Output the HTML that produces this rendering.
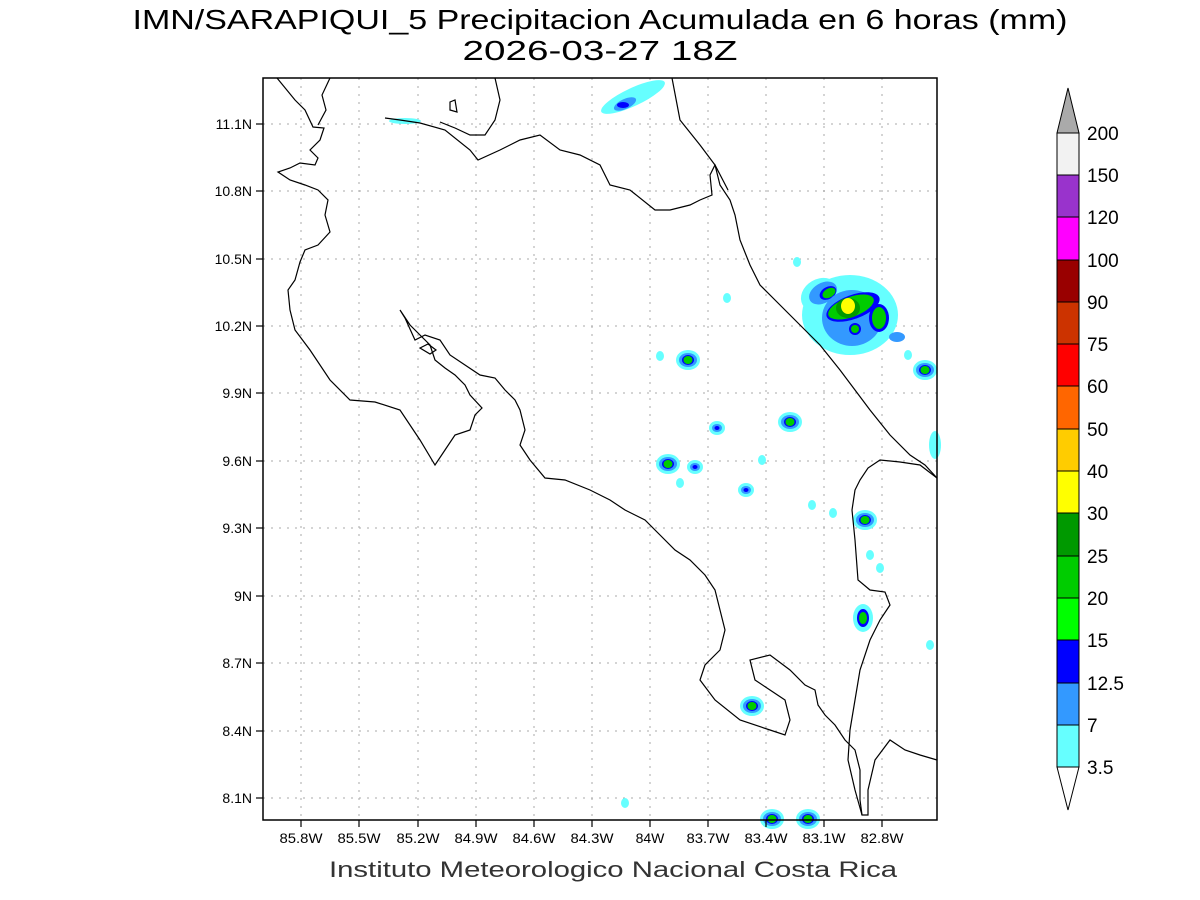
<!DOCTYPE html>
<html><head><meta charset="utf-8"><style>
body{margin:0;background:#fff;}
svg{display:block;font-family:"Liberation Sans",sans-serif;}
</style></head><body>
<svg width="1200" height="900" xmlns="http://www.w3.org/2000/svg">
<rect width="1200" height="900" fill="#fff"/>
<text x="600" y="29" font-size="28" text-anchor="middle" fill="#000" textLength="935" lengthAdjust="spacingAndGlyphs">IMN/SARAPIQUI_5 Precipitacion Acumulada en 6 horas (mm)</text>
<text x="600" y="60" font-size="28" text-anchor="middle" fill="#000" textLength="275" lengthAdjust="spacingAndGlyphs">2026-03-27 18Z</text>
<g stroke="#aaa" stroke-width="1" stroke-dasharray="2,6">
<line x1="301" y1="78" x2="301" y2="820"/><line x1="359" y1="78" x2="359" y2="820"/><line x1="418" y1="78" x2="418" y2="820"/><line x1="476" y1="78" x2="476" y2="820"/><line x1="534" y1="78" x2="534" y2="820"/><line x1="592" y1="78" x2="592" y2="820"/><line x1="650" y1="78" x2="650" y2="820"/><line x1="708" y1="78" x2="708" y2="820"/><line x1="766" y1="78" x2="766" y2="820"/><line x1="824" y1="78" x2="824" y2="820"/><line x1="882" y1="78" x2="882" y2="820"/>
<line x1="263" y1="124" x2="937" y2="124"/><line x1="263" y1="191" x2="937" y2="191"/><line x1="263" y1="259" x2="937" y2="259"/><line x1="263" y1="326" x2="937" y2="326"/><line x1="263" y1="393" x2="937" y2="393"/><line x1="263" y1="461" x2="937" y2="461"/><line x1="263" y1="528" x2="937" y2="528"/><line x1="263" y1="596" x2="937" y2="596"/><line x1="263" y1="663" x2="937" y2="663"/><line x1="263" y1="731" x2="937" y2="731"/><line x1="263" y1="798" x2="937" y2="798"/>
</g>
<defs>
<g id="b1"><ellipse rx="12" ry="10" fill="#66ffff"/><ellipse rx="9" ry="7" fill="#3399ff"/><ellipse rx="6" ry="5" fill="#0000ff"/><ellipse rx="4.5" ry="4" fill="#00cc00"/></g>
<g id="b2"><ellipse rx="8" ry="7" fill="#66ffff"/><ellipse rx="5" ry="4" fill="#3399ff"/><ellipse rx="2.5" ry="2" fill="#0000ff"/></g>
<g id="b3"><ellipse rx="4" ry="5" fill="#66ffff"/></g>
</defs>
<g>
<ellipse cx="633" cy="97" rx="35" ry="9" transform="rotate(-25 633 97)" fill="#66ffff"/>
<ellipse cx="625" cy="104" rx="12" ry="5" transform="rotate(-25 625 104)" fill="#3399ff"/>
<ellipse cx="623" cy="105" rx="6" ry="3" fill="#0000ff"/>
<ellipse cx="405" cy="121" rx="16" ry="3" fill="#66ffff"/>
<ellipse cx="850" cy="315" rx="48" ry="40" fill="#66ffff"/>
<ellipse cx="820" cy="295" rx="20" ry="16" transform="rotate(-30 820 295)" fill="#66ffff"/>
<ellipse cx="823" cy="293" rx="15" ry="10" transform="rotate(-30 823 293)" fill="#3399ff"/>
<ellipse cx="828" cy="293" rx="9" ry="6" transform="rotate(-30 828 293)" fill="#0000ff"/>
<ellipse cx="829" cy="293" rx="7" ry="4.5" transform="rotate(-30 829 293)" fill="#00cc00"/>
<ellipse cx="852" cy="318" rx="30" ry="28" fill="#3399ff"/>
<ellipse cx="853" cy="307" rx="28" ry="12" transform="rotate(-20 853 307)" fill="#0000ff"/>
<ellipse cx="851" cy="307" rx="24" ry="10" transform="rotate(-20 851 307)" fill="#00cc00"/>
<ellipse cx="848" cy="308" rx="12" ry="10" fill="#009900"/>
<ellipse cx="848" cy="306" rx="7" ry="8" fill="#ffff00"/>
<ellipse cx="855" cy="329" rx="6" ry="6" fill="#0000ff"/><ellipse cx="855" cy="329" rx="4" ry="4" fill="#00cc00"/>
<ellipse cx="879" cy="318" rx="10" ry="14" fill="#0000ff"/><ellipse cx="879" cy="318" rx="7" ry="11" fill="#00cc00"/>
<ellipse cx="897" cy="337" rx="8" ry="5" fill="#3399ff"/>
<use href="#b1" x="925" y="370"/>
<ellipse cx="935" cy="445" rx="6" ry="14" fill="#66ffff"/>
<use href="#b1" x="688" y="360"/>
<use href="#b1" x="668" y="464"/>
<use href="#b1" x="790" y="422"/>
<use href="#b1" x="865" y="520"/>
<ellipse cx="863" cy="618" rx="10" ry="14" fill="#66ffff"/><ellipse cx="863" cy="618" rx="6" ry="9" fill="#0000ff"/><ellipse cx="863" cy="618" rx="4" ry="6" fill="#00cc00"/>
<use href="#b1" x="752" y="706"/>
<use href="#b1" x="772" y="819"/>
<use href="#b1" x="808" y="819"/>
<use href="#b2" x="717" y="428"/>
<use href="#b2" x="746" y="490"/>
<use href="#b2" x="695" y="467"/>
<use href="#b3" x="727" y="298"/><use href="#b3" x="660" y="356"/><use href="#b3" x="625" y="803"/>
<use href="#b3" x="930" y="645"/><use href="#b3" x="680" y="483"/><use href="#b3" x="762" y="460"/>
<use href="#b3" x="833" y="513"/><use href="#b3" x="812" y="505"/><use href="#b3" x="870" y="555"/>
<use href="#b3" x="880" y="568"/><use href="#b3" x="797" y="262"/><use href="#b3" x="908" y="355"/>
</g>
<g fill="none" stroke="#000" stroke-width="1.2">
<polyline points="277,78 295,100 305,110 313,127 324,128 320,140 310,150 318,158 315,165 300,163 290,168 278,172 290,180 305,185 318,190 328,200 325,215 330,232 318,245 305,250 300,262 295,280 288,290 290,310 295,330 310,350 330,380 350,400 375,402 400,410 420,440 435,465 445,450 455,435 470,430 475,415 482,408 470,395 465,385 455,375 445,368 435,360 430,345 420,335 410,325 400,310 405,318 415,340 425,335 440,340 450,355 465,365 480,375 495,378 505,390 515,400 520,410 525,430 520,445 530,460 545,478 565,480 590,490 610,500 625,510 645,520 660,535 675,550 690,560 705,575 715,590 720,610 725,630 720,650 705,665 700,680 715,700 740,720 770,730 785,735 790,720 785,700 770,690 755,680 750,660 770,655 790,670 805,685 815,690 818,705 825,715 835,725 845,740 855,750 860,770 860,800 862,815 868,815 868,790 875,760 890,740 905,750 920,755 937,760"/>
<polyline points="937,478 920,465 900,462 880,460 868,468 860,480 855,490 852,510 855,540 858,580 870,590 885,592 890,605 880,620 870,640 860,670 855,700 850,730 848,760 855,790 862,815"/>
<polyline points="672,78 680,120 700,145 715,165 720,185 730,200 735,215 740,240 750,265 760,285 775,300 790,315 805,330 820,345 840,370 855,390 870,410 890,435 910,455 925,465 937,478"/>
<polyline points="385,118 400,120 420,123 445,130 470,150 478,160 500,150 520,140 540,135 560,150 580,155 600,165 610,185 630,190 655,210 670,210 690,205 700,200 712,195 710,175 715,165 728,190"/>
<polyline points="495,78 500,100 495,120 485,135 470,135 455,128 440,122"/>
<polyline points="330,78 322,95 326,110 318,125"/>
<polygon points="450,102 455,100 457,112 450,110"/>
<polygon points="420,348 428,344 436,350 430,354"/>
</g>
<rect x="263" y="78" width="674" height="742" fill="none" stroke="#000" stroke-width="1.5"/>
<g stroke="#000" stroke-width="1.2">
<line x1="301" y1="820" x2="301" y2="827"/><line x1="359" y1="820" x2="359" y2="827"/><line x1="418" y1="820" x2="418" y2="827"/><line x1="476" y1="820" x2="476" y2="827"/><line x1="534" y1="820" x2="534" y2="827"/><line x1="592" y1="820" x2="592" y2="827"/><line x1="650" y1="820" x2="650" y2="827"/><line x1="708" y1="820" x2="708" y2="827"/><line x1="766" y1="820" x2="766" y2="827"/><line x1="824" y1="820" x2="824" y2="827"/><line x1="882" y1="820" x2="882" y2="827"/>
<line x1="256" y1="124" x2="263" y2="124"/><line x1="256" y1="191" x2="263" y2="191"/><line x1="256" y1="259" x2="263" y2="259"/><line x1="256" y1="326" x2="263" y2="326"/><line x1="256" y1="393" x2="263" y2="393"/><line x1="256" y1="461" x2="263" y2="461"/><line x1="256" y1="528" x2="263" y2="528"/><line x1="256" y1="596" x2="263" y2="596"/><line x1="256" y1="663" x2="263" y2="663"/><line x1="256" y1="731" x2="263" y2="731"/><line x1="256" y1="798" x2="263" y2="798"/>
</g>
<g font-size="14" fill="#000" text-anchor="middle">
<text x="301" y="843" textLength="43" lengthAdjust="spacingAndGlyphs">85.8W</text><text x="359" y="843" textLength="43" lengthAdjust="spacingAndGlyphs">85.5W</text><text x="418" y="843" textLength="43" lengthAdjust="spacingAndGlyphs">85.2W</text><text x="476" y="843" textLength="43" lengthAdjust="spacingAndGlyphs">84.9W</text><text x="534" y="843" textLength="43" lengthAdjust="spacingAndGlyphs">84.6W</text><text x="592" y="843" textLength="43" lengthAdjust="spacingAndGlyphs">84.3W</text><text x="650" y="843">84W</text><text x="708" y="843" textLength="43" lengthAdjust="spacingAndGlyphs">83.7W</text><text x="766" y="843" textLength="43" lengthAdjust="spacingAndGlyphs">83.4W</text><text x="824" y="843" textLength="43" lengthAdjust="spacingAndGlyphs">83.1W</text><text x="882" y="843" textLength="43" lengthAdjust="spacingAndGlyphs">82.8W</text>
</g>
<g font-size="14" fill="#000" text-anchor="end">
<text x="252" y="129">11.1N</text><text x="252" y="196">10.8N</text><text x="252" y="264">10.5N</text><text x="252" y="331">10.2N</text><text x="252" y="398">9.9N</text><text x="252" y="466">9.6N</text><text x="252" y="533">9.3N</text><text x="252" y="601">9N</text><text x="252" y="668">8.7N</text><text x="252" y="736">8.4N</text><text x="252" y="803">8.1N</text>
</g>
<text x="613" y="877" font-size="22" text-anchor="middle" fill="#333" textLength="568" lengthAdjust="spacingAndGlyphs">Instituto Meteorologico Nacional Costa Rica</text>
<g stroke="#000" stroke-width="1">
<polygon points="1068,88 1079,133 1057,133" fill="#aaaaaa"/>
<rect x="1057" y="133" width="22" height="42" fill="#f2f2f2"/>
<rect x="1057" y="175" width="22" height="42" fill="#9933cc"/>
<rect x="1057" y="217" width="22" height="43" fill="#ff00ff"/>
<rect x="1057" y="260" width="22" height="42" fill="#990000"/>
<rect x="1057" y="302" width="22" height="42" fill="#cc3300"/>
<rect x="1057" y="344" width="22" height="42" fill="#ff0000"/>
<rect x="1057" y="386" width="22" height="43" fill="#ff6600"/>
<rect x="1057" y="429" width="22" height="42" fill="#ffcc00"/>
<rect x="1057" y="471" width="22" height="42" fill="#ffff00"/>
<rect x="1057" y="513" width="22" height="43" fill="#009900"/>
<rect x="1057" y="556" width="22" height="42" fill="#00cc00"/>
<rect x="1057" y="598" width="22" height="42" fill="#00ff00"/>
<rect x="1057" y="640" width="22" height="43" fill="#0000ff"/>
<rect x="1057" y="683" width="22" height="42" fill="#3399ff"/>
<rect x="1057" y="725" width="22" height="42" fill="#66ffff"/>
<polygon points="1057,767 1079,767 1068,810" fill="#fff"/>
</g>
<g font-size="19" fill="#000">
<text x="1087" y="140">200</text><text x="1087" y="182">150</text><text x="1087" y="224">120</text><text x="1087" y="267">100</text><text x="1087" y="309">90</text><text x="1087" y="351">75</text><text x="1087" y="393">60</text><text x="1087" y="436">50</text><text x="1087" y="478">40</text><text x="1087" y="520">30</text><text x="1087" y="563">25</text><text x="1087" y="605">20</text><text x="1087" y="647">15</text><text x="1087" y="690">12.5</text><text x="1087" y="732">7</text><text x="1087" y="774">3.5</text>
</g>
</svg>
</body></html>
